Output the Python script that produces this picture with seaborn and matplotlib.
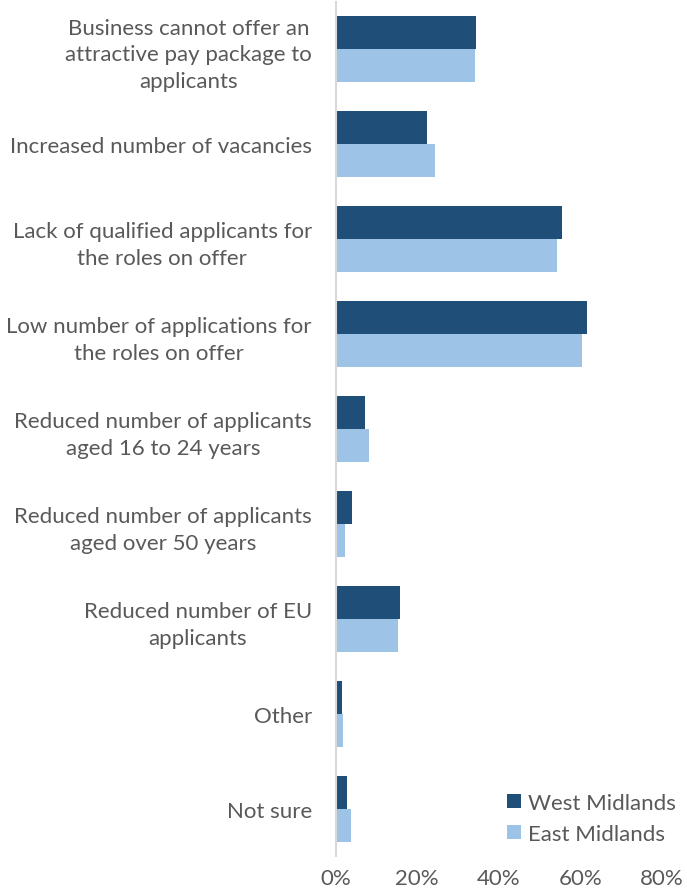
import matplotlib
matplotlib.use("Agg")
import matplotlib.pyplot as plt
import seaborn as sns
import pandas as pd

categories = [
    "Business cannot offer an\nattractive pay package to\napplicants",
    "Increased number of vacancies",
    "Lack of qualified applicants for\nthe roles on offer",
    "Low number of applications for\nthe roles on offer",
    "Reduced number of applicants\naged 16 to 24 years",
    "Reduced number of applicants\naged over 50 years",
    "Reduced number of EU\napplicants",
    "Other",
    "Not sure",
]
west_midlands = [34.4, 22.4, 55.4, 61.7, 7.2, 4.1, 15.7, 1.5, 2.7]
east_midlands = [34.2, 24.4, 54.3, 60.3, 8.3, 2.4, 15.2, 1.8, 3.9]
series_names = ["West Midlands", "East Midlands"]
series_colors = ["#1F4E79", "#9DC3E6"]
x_ticks = [0, 20, 40, 60, 80]
x_tick_labels = ["0%", "20%", "40%", "60%", "80%"]

df = pd.DataFrame({
    "reason": categories * 2,
    "share": west_midlands + east_midlands,
    "region": [series_names[0]] * len(categories) + [series_names[1]] * len(categories),
})

sns.set_theme(style="white")
plt.rcParams["font.family"] = ["Lato", "DejaVu Sans"]

fig = plt.figure(figsize=(6.87, 8.95), dpi=100)
ax = fig.add_axes([0.4884, 0.0419, 0.4752, 0.9553])

sns.barplot(
    data=df, y="reason", x="share", hue="region", orient="h",
    order=categories, hue_order=series_names,
    palette=series_colors, width=0.7, linewidth=0, saturation=1,
    ax=ax,
)

text_color = "#595959"
fs = 16
ax.set_xlim(0, 80)
ax.set_ylim(len(categories) - 0.5, -0.5)
ax.set_xticks(x_ticks)
ax.set_xticklabels(x_tick_labels, fontsize=fs, color=text_color)
ax.set_yticks(range(len(categories)))
ax.set_yticklabels(categories, fontsize=fs, color=text_color,
                   multialignment="center", linespacing=1.43)
ax.set_xlabel("")
ax.set_ylabel("")
ax.tick_params(axis="y", length=0, pad=17)
ax.tick_params(axis="x", length=0, pad=8)

for side in ["top", "right", "bottom"]:
    ax.spines[side].set_visible(False)
ax.spines["left"].set_color("#D9D9D9")
ax.spines["left"].set_linewidth(1.5)

leg = ax.legend(
    loc="lower right", bbox_to_anchor=(1.105, -0.009), frameon=False,
    fontsize=fs, handlelength=0.6, handleheight=0.6, handletextpad=0.35,
    labelspacing=0.52,
)
for t in leg.get_texts():
    t.set_color(text_color)

fig.savefig("out.png", dpi=100)
